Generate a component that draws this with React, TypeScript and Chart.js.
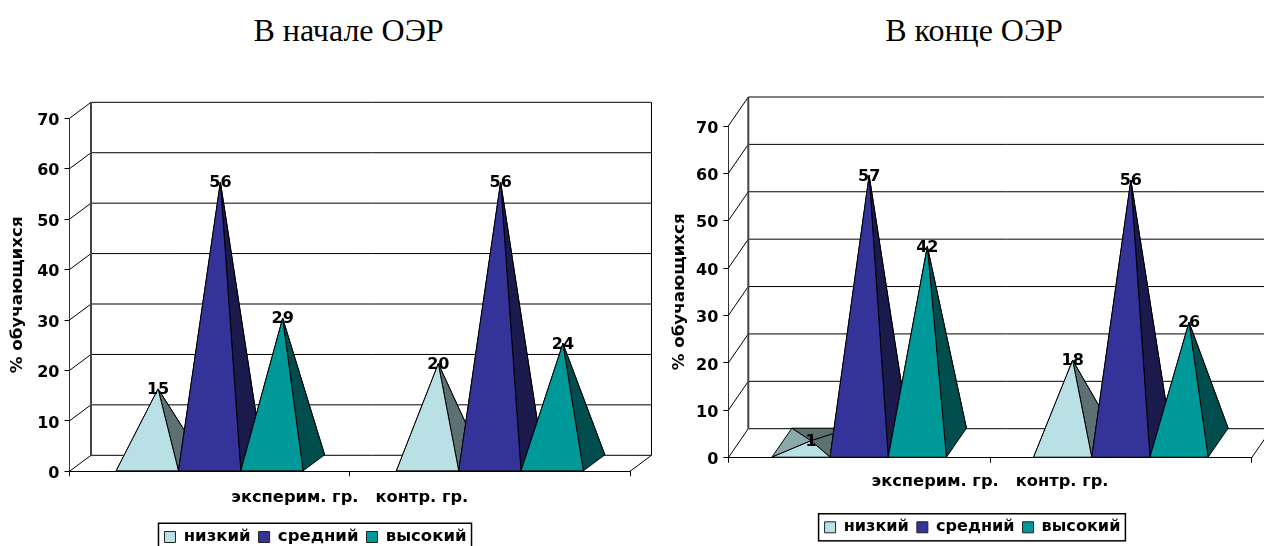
import React, { useEffect, useRef } from "react";
import { Chart, registerables } from "chart.js";

Chart.register(...registerables);

const categories = ["эксперим. гр.", "контр. гр."];
const seriesNames = ["низкий", "средний", "высокий"];
const seriesColors = ["#b9e0e4", "#333399", "#009999"];
const startLow = [15, 20];
const startMid = [56, 56];
const startHigh = [29, 24];
const endLow = [1, 18];
const endMid = [57, 56];
const endHigh = [42, 26];
const yTicksMax = 70;
const xAxisTitle = "эксперим. гр.   контр. гр.";
const yAxisTitle = "% обучающихся";

const FONT = "'DejaVu Sans'";

function shade(hex: string, f: number) {
  const n = parseInt(hex.slice(1), 16);
  const c = [(n >> 16) & 255, (n >> 8) & 255, n & 255].map((v) => Math.round(v * f));
  return `rgb(${c[0]},${c[1]},${c[2]})`;
}

function poly(ctx: CanvasRenderingContext2D, pts: number[][], fill: string) {
  ctx.beginPath();
  pts.forEach((p, i) => (i ? ctx.lineTo(p[0], p[1]) : ctx.moveTo(p[0], p[1])));
  ctx.closePath();
  ctx.fillStyle = fill;
  ctx.fill();
  ctx.stroke();
}

const pyramid3d = {
  id: "pyramid3d",
  afterLayout(chart: any, _a: any, o: any) {
    const l = chart.legend;
    const shift = o.legendCenter - (l.left + l.right) / 2;
    l.left += shift;
    l.right += shift;
    const h = l.height;
    l.top = o.legendTop;
    l.bottom = o.legendTop + h;
    const s = chart.scales.y;
    const orig = s._computeLabelItems.bind(s);
    s._computeLabelItems = (ca: any) =>
      orig(ca).map((it: any) => ({ ...it, textOffset: it.textOffset + 2.5 }));
    s._labelItems = null;
  },
  beforeDatasetDraw() {
    return false;
  },
  beforeDatasetsDraw(chart: any, _a: any, o: any) {
    const { ctx, chartArea: ca, scales } = chart;
    const { dx, dy } = o;
    const y = scales.y;
    ctx.save();
    ctx.strokeStyle = "#000";
    ctx.lineWidth = 1;
    y.ticks.forEach((t: any) => {
      const py = y.getPixelForValue(t.value);
      ctx.beginPath();
      ctx.moveTo(ca.left, py);
      ctx.lineTo(ca.left + dx, py + dy);
      ctx.lineTo(ca.right + dx, py + dy);
      ctx.stroke();
    });
    ctx.beginPath();
    ctx.moveTo(ca.right, ca.bottom);
    ctx.lineTo(ca.right + dx, ca.bottom + dy);
    ctx.lineTo(ca.right + dx, ca.top + dy);
    ctx.stroke();
    ctx.lineWidth = 2;
    ctx.strokeStyle = "#444";
    ctx.beginPath();
    ctx.moveTo(ca.left + dx, ca.bottom + dy);
    ctx.lineTo(ca.left + dx, ca.top + dy);
    ctx.stroke();
    ctx.restore();
  },
  afterDatasetsDraw(chart: any, _a: any, o: any) {
    const { ctx } = chart;
    const { dx, dy, apexDepth } = o;
    ctx.save();
    ctx.lineWidth = 1;
    ctx.strokeStyle = "#000";
    ctx.lineJoin = "round";
    const apexes: any[] = [];
    chart.data.datasets.forEach((ds: any, i: number) => {
      const meta = chart.getDatasetMeta(i);
      meta.data.forEach((el: any, j: number) => {
        const half = el.width / 2;
        const L = el.x - half;
        const R = el.x + half;
        const b = el.base;
        const apex = [el.x + dx / 2, el.y + dy * apexDepth];
        const FL = [L, b];
        const FR = [R, b];
        const BL = [L + dx, b + dy];
        const BR = [R + dx, b + dy];
        const c = ds.backgroundColor;
        poly(ctx, [BL, BR, apex], shade(c, 0.5));
        poly(ctx, [FL, BL, apex], shade(c, 0.75));
        poly(ctx, [FR, BR, apex], shade(c, 0.5));
        poly(ctx, [FL, FR, apex], c);
        apexes.push({ x: apex[0], y: apex[1], v: ds.data[j] });
      });
    });
    ctx.font = `bold 16px ${FONT}`;
    ctx.fillStyle = "#000";
    ctx.textAlign = "center";
    ctx.textBaseline = "middle";
    apexes.forEach((a) => ctx.fillText(String(a.v), a.x, a.y + 1));
    ctx.restore();
  },
  afterDraw(chart: any) {
    const { ctx } = chart;
    const boxes = chart.legend.legendHitBoxes;
    const l = Math.min(...boxes.map((b: any) => b.left));
    const r = Math.max(...boxes.map((b: any) => b.left + b.width));
    const t = boxes[0].top;
    const h = boxes[0].height;
    ctx.save();
    ctx.strokeStyle = "#000";
    ctx.lineWidth = 1.5;
    ctx.strokeRect(l - 6, t - 5.5, r - l + 11, h + 11);
    ctx.restore();
  },
};

type PanelProps = {
  left: number;
  width: number;
  series: number[][];
  pad: any;
  yWidth: number;
  xHeight: number;
  titlePad: number;
  dx: number;
  dy: number;
  legendCenter: number;
  legendTop: number;
  legendFont: number;
};

function Panel(p: PanelProps) {
  const ref = useRef<HTMLCanvasElement>(null);
  useEffect(() => {
    const chart = new Chart(ref.current as HTMLCanvasElement, {
      type: "bar",
      plugins: [pyramid3d],
      data: {
        labels: categories,
        datasets: p.series.map((data, i) => ({
          label: seriesNames[i],
          data,
          backgroundColor: seriesColors[i],
          borderColor: "#222",
          borderWidth: 1,
          categoryPercentage: 0.667,
          barPercentage: 1,
        })),
      },
      options: {
        animation: false,
        responsive: false,
        layout: { padding: p.pad },
        plugins: {
          tooltip: { enabled: false },
          title: { display: false },
          legend: {
            position: "bottom",
            labels: {
              boxWidth: 11,
              boxHeight: 11,
              padding: 8,
              color: "#000",
              font: { family: FONT, size: p.legendFont, weight: "bold" },
            },
          },
          pyramid3d: {
            dx: p.dx,
            dy: p.dy,
            apexDepth: 0.42,
            legendCenter: p.legendCenter,
            legendTop: p.legendTop,
          },
        } as any,
        scales: {
          x: {
            grid: { display: true, drawOnChartArea: false, color: "#000", tickLength: 5, offset: true },
            border: { color: "#000" },
            ticks: { display: false },
            title: {
              display: true,
              text: xAxisTitle,
              color: "#000",
              font: { family: FONT, size: 16.3, weight: "bold" },
              padding: { top: 0, bottom: p.titlePad },
            },
            afterFit(s: any) {
              s.height = p.xHeight;
            },
          },
          y: {
            min: 0,
            max: yTicksMax,
            grid: { display: true, drawOnChartArea: false, color: "#000", tickLength: 5 },
            border: { color: "#333" },
            ticks: {
              stepSize: 10,
              padding: 5,
              color: "#000",
              font: { family: FONT, size: 16, weight: "bold" },
            },
            title: {
              display: true,
              text: yAxisTitle,
              color: "#000",
              font: { family: FONT, size: 16.7, weight: "bold" },
              padding: { top: 0, bottom: 0 },
            },
            afterFit(s: any) {
              s.width = p.yWidth;
            },
          },
        },
      } as any,
    });
    return () => chart.destroy();
  }, []);
  return (
    <canvas
      ref={ref}
      width={p.width}
      height={546}
      style={{ position: "absolute", left: p.left, top: 0, width: p.width, height: 546 }}
    />
  );
}

const headStyle: React.CSSProperties = {
  position: "absolute",
  top: 12,
  fontFamily: "'Liberation Serif'",
  fontSize: 32,
  lineHeight: "36px",
  color: "#000",
  transform: "translateX(-50%)",
  whiteSpace: "nowrap",
};

export default function App() {
  return (
    <div style={{ position: "fixed", left: 0, top: 0, width: 1264, height: 546, overflow: "hidden", background: "#fff" }}>
      <div style={{ ...headStyle, left: 348.5 }}>В начале ОЭР</div>
      <div style={{ ...headStyle, left: 974 }}>В конце ОЭР</div>
      <Panel
        left={0}
        width={660}
        series={[startLow, startMid, startHigh]}
        pad={{ left: 8, right: 30, top: 118.3, bottom: 0 }}
        yWidth={61.5}
        xHeight={40.2}
        titlePad={4}
        dx={21.5}
        dy={-16}
        legendCenter={315.5}
        legendTop={520.75}
        legendFont={16.5}
      />
      <Panel
        left={664}
        width={600}
        series={[endLow, endMid, endHigh]}
        pad={{ left: 6, right: 12.3, top: 126, bottom: 0 }}
        yWidth={58.3}
        xHeight={54.2}
        titlePad={20}
        dx={20}
        dy={-29}
        legendCenter={308.5}
        legendTop={511.25}
        legendFont={16.1}
      />
    </div>
  );
}
